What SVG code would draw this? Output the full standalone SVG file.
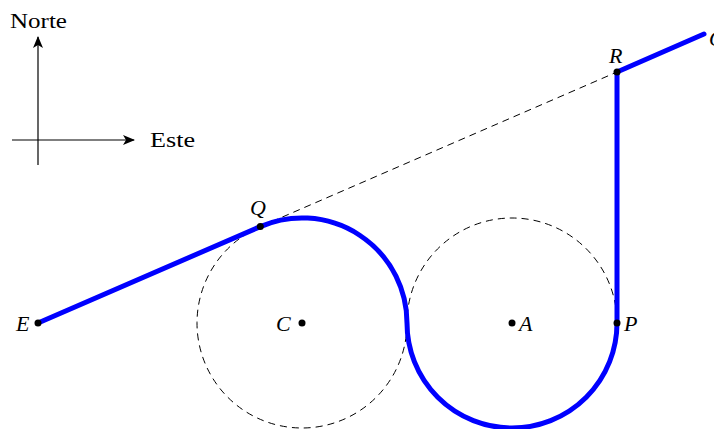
<svg xmlns="http://www.w3.org/2000/svg" width="714" height="429" viewBox="0 0 714 429">
<style>
.lbl{font-family:"Liberation Serif","Times New Roman",serif;font-size:21px;fill:#000}
.it{font-style:italic;font-size:22px}
.dash{fill:none;stroke:#000;stroke-width:1;stroke-dasharray:7,5}
.axis{fill:none;stroke:#000;stroke-width:1.2}
.path{fill:none;stroke:#0000ff;stroke-width:5;stroke-linecap:round;stroke-linejoin:round}
.dot{fill:#000}
</style>
<defs>
<marker id="arr" viewBox="0 0 12 10" refX="11" refY="5" markerWidth="12" markerHeight="10" markerUnits="userSpaceOnUse" orient="auto">
<path d="M0,0 L12,5 L0,10 L3,5 Z" fill="#000"/>
</marker>
</defs>
<g id="compass">
<line class="axis" x1="38" y1="165" x2="38" y2="37" marker-end="url(#arr)"/>
<line class="axis" x1="12" y1="140" x2="134" y2="140" marker-end="url(#arr)"/>
<text class="lbl" x="10" y="28" textLength="57" lengthAdjust="spacingAndGlyphs">Norte</text>
<text class="lbl" x="150" y="147" textLength="45" lengthAdjust="spacingAndGlyphs">Este</text>
</g>
<g id="connectors">
<circle class="dash" cx="302" cy="323" r="105"/>
<circle class="dash" cx="512" cy="323" r="105"/>
<line class="dash" x1="260.3" y1="226.6" x2="617" y2="72"/>
<path class="path" d="M38,323 L260.3,226.6 A105,105 0 0 1 407,323 A105,105 0 0 0 617,323 L617,72 L704,34"/>
</g>
<g id="E"><circle class="dot" cx="38" cy="323" r="3.5"/><text class="lbl it" x="16" y="331">E</text></g>
<g id="Q"><circle class="dot" cx="260.3" cy="226.6" r="3.5"/><text class="lbl it" x="250" y="215">Q</text></g>
<g id="C"><circle class="dot" cx="302" cy="323" r="3.5"/><text class="lbl it" x="276" y="331">C</text></g>
<g id="A"><circle class="dot" cx="512" cy="323" r="3.5"/><text class="lbl it" x="519" y="331">A</text></g>
<g id="P"><circle class="dot" cx="617" cy="323" r="3.5"/><text class="lbl it" x="624" y="331">P</text></g>
<g id="R"><circle class="dot" cx="617" cy="72" r="3.5"/><text class="lbl it" x="609" y="63">R</text></g>
<g id="O"><text class="lbl it" x="709" y="46">O</text></g>
</svg>
